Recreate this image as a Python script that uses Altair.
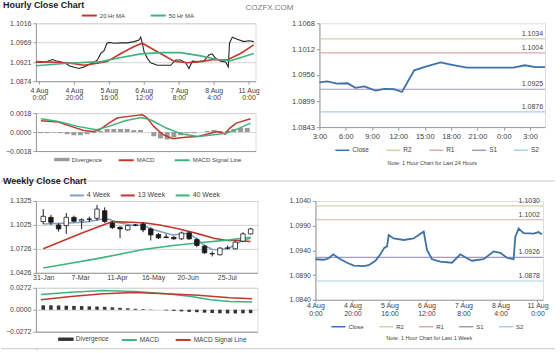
import json
import altair as alt
import pandas as pd

FONT = "Liberation Sans"
TXT = "#3f3f3f"
AXIS = "#9a9a9a"
GRID = "#d4d4d4"
RED = "#c0392b"
GREEN = "#3fb27f"
BLUE = "#3c72a8"
SEP = "#c8c8c8"

# ---------------- Hourly close chart (last week, left) ----------------
hw_tick_pos = [0, 20, 40, 60, 80, 100, 120]
hw_tick_labels = ["4 Aug|0:00", "4 Aug|20:00", "5 Aug|16:00", "6 Aug|12:00",
                  "7 Aug|8:00", "8 Aug|4:00", "11 Aug|0:00"]
hw_close_idx = [-1.7, 1.1, 5.0, 7.8, 9.7, 12.6, 15.4, 17.3, 20.2, 23.0, 25.9, 27.8, 30.7,
                33.5, 35.4, 37.3, 38.9, 40.2, 43.0, 46.9, 50.7, 54.5, 57.3, 58.3, 59.2,
                60.2, 62.1, 64.0, 67.8, 71.6, 75.4, 78.3, 81.1, 84.0, 85.9, 87.8, 90.7,
                94.5, 97.3, 99.2, 101.1, 104.0, 106.9, 108.4, 109.1, 110.7, 113.5, 117.3,
                120.2, 123.0]
hw_close_val = [1.0922, 1.0920, 1.0923, 1.0927, 1.0924, 1.0921, 1.0918, 1.0912, 1.0908,
                1.0905, 1.0909, 1.0913, 1.0918, 1.0926, 1.0942, 1.0949, 1.0967, 1.0969,
                1.0967, 1.0968, 1.0968, 1.0971, 1.0975, 1.0982, 1.0967, 1.0946, 1.0930,
                1.0919, 1.0913, 1.0913, 1.0913, 1.0926, 1.0926, 1.0919, 1.0905, 1.0923,
                1.0922, 1.0924, 1.0938, 1.0941, 1.0930, 1.0923, 1.0921, 1.0909, 1.0967,
                1.0982, 1.0977, 1.0971, 1.0973, 1.0971]
hw_ma20_idx = [-1.7, 16.4, 25.9, 33.5, 39.0, 46.9, 54.5, 59.2, 67.8, 77.3, 84.9, 92.6,
               100.2, 107.8, 115.4, 123.0]
hw_ma20_val = [1.0922, 1.0919, 1.0913, 1.0918, 1.0922, 1.0942, 1.0959, 1.0967, 1.0946,
               1.0923, 1.0919, 1.0922, 1.0927, 1.0926, 1.0942, 1.0963]
hw_ma50_idx = [-1.7, 16.4, 35.4, 44.9, 58.3, 69.7, 81.1, 92.6, 102.1, 109.7, 123.0]
hw_ma50_val = [1.0912, 1.0918, 1.0922, 1.0930, 1.0941, 1.0944, 1.0944, 1.0936, 1.0927,
               1.0924, 1.0942]
hw_macd_idx = [-1.7, 8.8, 16.4, 24.0, 29.7, 33.5, 39.0, 44.0, 50.7, 59.2, 62.1, 65.9,
               71.6, 77.3, 84.9, 92.6, 98.3, 104.0, 108.8, 111.6, 115.4, 124.0]
hw_macd_val = [0.00107, 0.00095, 0.00054, 0.00016, 0.00006, 0.00022, 0.00085, 0.00133,
               0.00149, 0.00164, 0.00133, 0.00054, -0.00025, -0.00063, -0.00050, -0.00041,
               -0.00019, 0.00006, -0.00019, 0.00038, 0.00085, 0.00126]
hw_sig_idx = [-1.7, 8.8, 20.2, 31.6, 39.0, 48.8, 58.3, 64.0, 73.5, 83.0, 92.6, 102.1,
              109.7, 117.3, 124.0]
hw_sig_val = [0.00126, 0.00100, 0.00054, 0.00022, 0.00054, 0.00107, 0.00139, 0.00117,
              0.00038, -0.00019, -0.00041, -0.00025, -0.00010, 0.00038, 0.00085]
hw_div_idx = [-2, 2, 6, 10, 14, 18, 22, 26, 30, 34, 38, 42, 46, 50, 54, 58, 62, 66, 70,
              74, 78, 82, 86, 90, 94, 98, 102, 106, 110, 114, 118, 122]
hw_div_val = [-0.0001, -0.0001, -0.00005, -0.0001, -0.0002, -0.0003, -0.0003, -0.0002,
              -0.0001, 0.0001, 0.0003, 0.0003, 0.0003, 0.0003, 0.0002, 0.0002, 0.0,
              -0.0004, -0.0006, -0.0007, -0.0005, -0.0003, -0.0001, -0.0001, 0.0, 0.0001,
              0.0002, 0.0001, 0.0001, 0.0003, 0.0004, 0.0004]

# ---------------- Last 24 hours (right, top) ----------------
d1_tick_pos = [0, 3, 6, 9, 12, 15, 18, 21, 24]
d1_tick_labels = ["3:00", "6:00", "9:00", "12:00", "15:00", "18:00", "21:00", "0:00", "3:00"]
d1_hours = [0, 0.9, 2.0, 3.2, 4.1, 5.1, 6.4, 7.4, 8.5, 9.4, 10.8, 12.1, 13.8, 15.1, 16.8,
            18.5, 20.4, 22.1, 23.4, 24.6, 25.7]
d1_close = [1.0940, 1.0942, 1.0937, 1.0938, 1.0928, 1.0931, 1.0922, 1.0926, 1.0925, 1.0919,
            1.0966, 1.0974, 1.0983, 1.0978, 1.0972, 1.0972, 1.0972, 1.0972, 1.0977, 1.0973,
            1.0973]
level_names = ["R2", "R1", "S1", "S2"]
d1_levels = [1.1034, 1.1004, 1.0925, 1.0876]

# ---------------- Weekly close chart (left, bottom) ----------------
wk_tick_pos = [0, 4.8, 9.6, 14.3, 18.8, 23.9]
wk_tick_labels = ["31-Jan", "7-Mar", "11-Apr", "16-May", "20-Jun", "25-Jul"]
wk_open = [1.1067, 1.1120, 1.1025, 1.1017, 1.1120, 1.1075, 1.1100, 1.1108, 1.1203, 1.1050,
           1.0996, 1.0963, 1.1025, 1.1037, 1.0975, 1.0905, 1.0875, 1.0871, 1.0851, 1.0925,
           1.0842, 1.0759, 1.0668, 1.0652, 1.0731, 1.0726, 1.0822, 1.0913]
wk_high = [1.1224, 1.1150, 1.1046, 1.1174, 1.1141, 1.1108, 1.1129, 1.1274, 1.1245, 1.1067,
           1.1008, 1.1025, 1.1037, 1.1058, 1.0996, 1.0925, 1.0913, 1.0884, 1.0942, 1.0942,
           1.0863, 1.0776, 1.0693, 1.0747, 1.0768, 1.0830, 1.0934, 1.0988]
wk_low = [1.1037, 1.1025, 1.0942, 1.0913, 1.1058, 1.0975, 1.1058, 1.1079, 1.1050, 1.0975,
          1.0859, 1.0954, 1.1008, 1.0934, 1.0830, 1.0851, 1.0859, 1.0842, 1.0838, 1.0838,
          1.0747, 1.0664, 1.0631, 1.0643, 1.0718, 1.0718, 1.0809, 1.0905]
wk_close = [1.1133, 1.1058, 1.0975, 1.1120, 1.1071, 1.1091, 1.1095, 1.1224, 1.1067, 1.0992,
            1.0975, 1.1017, 1.1021, 1.0963, 1.0900, 1.0863, 1.0867, 1.0851, 1.0925, 1.0851,
            1.0768, 1.0676, 1.0664, 1.0735, 1.0739, 1.0809, 1.0913, 1.0975]
wk_ma4_idx = [0, 3.2, 5.3, 7.8, 8.6, 9.5, 11.5, 13.0, 14.0, 15.2, 16.9, 18.1, 18.9, 20.0,
              21.0, 22.0, 23.0, 23.9, 24.9, 25.9, 27.0]
wk_ma4_val = [1.1037, 1.1050, 1.1058, 1.1100, 1.1095, 1.1058, 1.1025, 1.1017, 1.0975,
              1.0942, 1.0900, 1.0913, 1.0921, 1.0851, 1.0768, 1.0718, 1.0714, 1.0726,
              1.0768, 1.0830, 1.0859]
wk_ma13_idx = [0, 3.2, 5.3, 7.8, 9.0, 11.5, 13.3, 15.2, 17.7, 20.2, 22.2, 23.9, 25.1, 27.0]
wk_ma13_val = [1.0726, 1.0851, 1.0934, 1.1025, 1.1067, 1.1058, 1.1050, 1.1025, 1.0975,
               1.0913, 1.0859, 1.0830, 1.0830, 1.0818]
wk_ma40_idx = [0, 3.2, 7.4, 13.0, 16.9, 21.0, 24.3, 27.0]
wk_ma40_val = [1.0486, 1.0540, 1.0610, 1.0718, 1.0768, 1.0809, 1.0838, 1.0871]
wk_macd_idx = [-0.3, 3.6, 7.8, 11.9, 16.0, 19.3, 21.8, 24.3, 27.2]
wk_macd_val = [0.0190, 0.0218, 0.0239, 0.0227, 0.0198, 0.0165, 0.0124, 0.0103, 0.0095]
wk_sig_idx = [-0.3, 3.6, 7.8, 11.9, 16.0, 20.2, 24.3, 27.2]
wk_sig_val = [0.0124, 0.0165, 0.0198, 0.0214, 0.0198, 0.0181, 0.0148, 0.0136]
wk_div_val = [0.0055, 0.0055, 0.0053, 0.0050, 0.0048, 0.0045, 0.0042, 0.0040, 0.0036,
              0.0030, 0.0024, 0.0018, 0.0012, 0.0008, 0.0004, 0.0, -0.0008, -0.0014,
              -0.0020, -0.0026, -0.0030, -0.0036, -0.0040, -0.0044, -0.0046, -0.0046,
              -0.0044, -0.0042]

# ---------------- Last week hourly (right, bottom) ----------------
w1_idx = [0.0, 4.5, 7.2, 9.6, 12.6, 17.1, 20.7, 26.1, 28.8, 32.4, 35.1, 37.2, 38.7, 39.6,
          42.3, 47.7, 53.1, 55.8, 58.5, 60.3, 63.0, 67.5, 73.8, 78.3, 81.9, 84.6, 90.9,
          96.3, 99.9, 103.5, 107.1, 108.0, 109.8, 112.5, 117.9, 120.6, 122.4]
w1_close = [1.0922, 1.0921, 1.0924, 1.0932, 1.0924, 1.0915, 1.0909, 1.0908, 1.0910, 1.0919,
            1.0932, 1.0945, 1.0948, 1.0971, 1.0964, 1.0961, 1.0964, 1.0971, 1.0978, 1.0941,
            1.0922, 1.0917, 1.0915, 1.0932, 1.0924, 1.0919, 1.0922, 1.0938, 1.0935, 1.0925,
            1.0922, 1.0967, 1.0984, 1.0975, 1.0974, 1.0977, 1.0972]
w1_levels = [1.1030, 1.1002, 1.0926, 1.0878]

LEVEL_COLORS = ["#d3d2a4", "#dcaaa9", "#a597bd", "#a4d2e2"]


# ---------------- helpers ----------------
def lab_expr(pos, labels):
    return "split(%s[indexof(%s, datum.value)], '|')" % (json.dumps(labels), json.dumps(pos))


def y_axis(values, fmt, size=7.0, grid=True):
    return alt.Axis(values=values, tickCount=50, format=fmt, title=None, labelFont=FONT,
                    labelFontSize=size, labelColor=TXT, labelPadding=2, tickSize=3,
                    tickColor=AXIS, domainColor=AXIS, grid=grid, gridColor=GRID,
                    labelFlush=False, labelOverlap=False)


def x_axis(pos, labels, size=7.0, pad=2, tick=3):
    return alt.Axis(values=pos, tickCount=50, labelExpr=lab_expr(pos, labels), title=None,
                    labelFont=FONT, labelFontSize=size, labelColor=TXT, labelPadding=pad,
                    ticks=tick > 0, tickSize=max(tick, 1), tickColor=AXIS, domainColor=AXIS,
                    grid=False, labelFlush=False, labelOverlap=False,
                    labelLineHeight=size + 0.5)


X_BLANK = alt.Axis(labels=False, ticks=False, title=None, domainColor=AXIS, grid=False)


def line_legend(x, y, size=6.0, pad=16, sym=225, sw=2):
    return alt.Legend(orient="none", legendX=x, legendY=y, direction="horizontal",
                      title=None, symbolType="stroke", symbolSize=sym, symbolStrokeWidth=sw,
                      labelFont=FONT, labelFontSize=size, labelColor=TXT,
                      columnPadding=pad, labelOffset=2, padding=0)


def bar_legend(x, y, size=6.0):
    return alt.Legend(orient="none", legendX=x, legendY=y, direction="horizontal",
                      title=None, symbolType="M-1,-0.22H1V0.22H-1Z", symbolSize=240,
                      symbolStrokeWidth=0, labelFont=FONT, labelFontSize=size,
                      labelColor=TXT, labelOffset=2, padding=0)


def long_df(parts):
    rows = []
    for name, idx, vals in parts:
        for i, v in zip(idx, vals):
            rows.append({"name": name, "i": i, "v": v})
    return pd.DataFrame(rows)


def sep_chart():
    return alt.Chart(pd.DataFrame({"a": [0]})).mark_rule(color=SEP, strokeWidth=1).encode(
        x=alt.value(-35), x2=alt.value(520), y=alt.value(0)).properties(width=1, height=1)


# ---------------- panel A: hourly price ----------------
xs_hw = alt.Scale(domain=[-1.7, 124], nice=False, zero=False)
ys_hw = alt.Scale(domain=[1.0874, 1.1016], nice=False, zero=False)
hw_x_axis = x_axis(hw_tick_pos, hw_tick_labels, size=7, pad=2, tick=3)

a_close = alt.Chart(pd.DataFrame({"i": hw_close_idx, "v": hw_close_val})).mark_line(
    color="#262626", strokeWidth=1.1).encode(
    x=alt.X("i:Q", scale=xs_hw, axis=hw_x_axis),
    y=alt.Y("v:Q", scale=ys_hw, axis=y_axis([1.0874, 1.0921, 1.0969, 1.1016], ".4f")))
a_ma = alt.Chart(long_df([("20 Hr MA", hw_ma20_idx, hw_ma20_val),
                          ("50 Hr MA", hw_ma50_idx, hw_ma50_val)])).mark_line(
    strokeWidth=1.6).encode(
    x=alt.X("i:Q", scale=xs_hw), y=alt.Y("v:Q", scale=ys_hw),
    color=alt.Color("name:N", scale=alt.Scale(domain=["20 Hr MA", "50 Hr MA"],
                                              range=[RED, GREEN]),
                    legend=line_legend(45, -16.5, size=6, pad=21)))
a_brand = alt.Chart(pd.DataFrame({"t": ["COZFX.COM"]})).mark_text(
    align="left", baseline="middle", fontSize=8, font=FONT, color="#7a7a7a").encode(
    text="t:N", x=alt.value(210), y=alt.value(-15))
panel_a = alt.layer(a_close, a_ma, a_brand).properties(
    width=220, height=58,
    title=alt.TitleParams("Hourly Close Chart", anchor="start", frame="group", dx=-33,
                          fontSize=9, fontWeight="bold", font=FONT, color="#1a1a1a",
                          offset=-6))

# ---------------- panel B: hourly MACD ----------------
ys_hm = alt.Scale(domain=[-0.0018, 0.0018], nice=False, zero=False)
b_div = alt.Chart(pd.DataFrame({"i": hw_div_idx, "v": hw_div_val,
                                "name": "Divergence"})).mark_bar(size=5).encode(
    x=alt.X("i:Q", scale=xs_hw, axis=X_BLANK),
    y=alt.Y("v:Q", scale=ys_hm, axis=y_axis([-0.0018, 0.0, 0.0018], ".4f")),
    fill=alt.Fill("name:N", scale=alt.Scale(domain=["Divergence"], range=["#9a9a9a"]),
                  legend=bar_legend(18, 38.5, size=6)))
b_lines = alt.Chart(long_df([("MACD", hw_macd_idx, hw_macd_val),
                             ("MACD Signal Line", hw_sig_idx, hw_sig_val)])).mark_line(
    strokeWidth=1.5).encode(
    x=alt.X("i:Q", scale=xs_hw), y=alt.Y("v:Q", scale=ys_hm),
    color=alt.Color("name:N", scale=alt.Scale(domain=["MACD", "MACD Signal Line"],
                                              range=[RED, GREEN]),
                    legend=line_legend(82, 38.5, size=6, pad=16)))
panel_b = alt.layer(b_div, b_lines).properties(width=220, height=38)


# ---------------- right panels (levels) ----------------
def level_panel(xvals, closes, levels, xdom, tick_pos, tick_labels, yvals, ydom, w, h,
                note, lx, ly, ysize, xsize, xpad, xtick, lsize, lpad, noff):
    xs = alt.Scale(domain=xdom, nice=False, zero=False)
    ys = alt.Scale(domain=ydom, nice=False, zero=False)
    cs = alt.Scale(domain=["Close"] + level_names, range=[BLUE] + LEVEL_COLORS)
    lv = pd.DataFrame({"name": level_names, "v": levels, "xe": max(xvals)})
    rules = alt.Chart(lv).mark_rule(strokeWidth=1.2).encode(
        y=alt.Y("v:Q", scale=ys, axis=y_axis(yvals, ".4f", size=ysize, grid=False)),
        color=alt.Color("name:N", scale=cs, legend=line_legend(lx, ly, size=lsize, pad=lpad,
                                                               sym=200, sw=1.5)))
    line = alt.Chart(pd.DataFrame({"h": xvals, "v": closes, "name": "Close"})).mark_line(
        strokeWidth=1.8).encode(
        x=alt.X("h:Q", scale=xs, axis=x_axis(tick_pos, tick_labels, size=xsize, pad=xpad,
                                             tick=xtick)),
        y=alt.Y("v:Q", scale=ys), color=alt.Color("name:N", scale=cs))
    texts = alt.Chart(lv).mark_text(align="right", baseline="bottom", dx=-2, dy=-2,
                                    fontSize=7, font=FONT, color=TXT).encode(
        x=alt.X("xe:Q", scale=xs), y=alt.Y("v:Q", scale=ys),
        text=alt.Text("v:Q", format=".4f"))
    return alt.layer(rules, line, texts).properties(
        width=w, height=h,
        title=alt.TitleParams(note, orient="bottom", anchor="middle", fontSize=5.5,
                              fontWeight="normal", font=FONT, color=TXT, offset=noff))


panel_c = level_panel(d1_hours, d1_close, d1_levels, [0, 25.7], d1_tick_pos, d1_tick_labels,
                      [1.0843, 1.0899, 1.0956, 1.1012, 1.1068], [1.0843, 1.1068], 226, 104,
                      "Note: 1 Hour Chart for Last 24 Hours", 15, 119, 7.5, 7.5, 2, 3,
                      6.5, 13, 7)

panel_f = level_panel(w1_idx, w1_close, w1_levels, [0, 123], hw_tick_pos, hw_tick_labels,
                      [1.084, 1.089, 1.094, 1.099, 1.104], [1.084, 1.104], 228, 99,
                      "Note: 1 Hour Chart for  Last 1 Week", 15, 118, 7, 7, 0, 2,
                      6, 11, 6)

# ---------------- panel D: weekly candles ----------------
xs_wk = alt.Scale(domain=[-0.3, 27.25], nice=False, zero=False)
ys_wk = alt.Scale(domain=[1.0426, 1.1325], nice=False, zero=False)
wk_df = pd.DataFrame({"i": list(range(len(wk_open))), "open": wk_open, "high": wk_high,
                      "low": wk_low, "close": wk_close})
d_ma = alt.Chart(long_df([("4 Week", wk_ma4_idx, wk_ma4_val),
                          ("13 Week", wk_ma13_idx, wk_ma13_val),
                          ("40 Week", wk_ma40_idx, wk_ma40_val)])).mark_line(
    strokeWidth=1.6).encode(
    x=alt.X("i:Q", scale=xs_wk, axis=x_axis(wk_tick_pos, wk_tick_labels, size=7, pad=1,
                                             tick=0)),
    y=alt.Y("v:Q", scale=ys_wk, axis=y_axis([1.0426, 1.0726, 1.1025, 1.1325], ".4f")),
    color=alt.Color("name:N", scale=alt.Scale(domain=["4 Week", "13 Week", "40 Week"],
                                              range=["#7fa0c6", RED, GREEN]),
                    legend=line_legend(33, -13.5, size=7, pad=6, sym=196)))
d_wick = alt.Chart(wk_df).mark_rule(color="#1a1a1a", strokeWidth=1).encode(
    x=alt.X("i:Q", scale=xs_wk), y=alt.Y("low:Q", scale=ys_wk), y2="high:Q")
d_body = alt.Chart(wk_df).mark_bar(size=4.5, stroke="#1a1a1a", strokeWidth=0.8).encode(
    x=alt.X("i:Q", scale=xs_wk), y=alt.Y("open:Q", scale=ys_wk), y2="close:Q",
    fill=alt.condition("datum.close >= datum.open", alt.value("white"),
                       alt.value("#1a1a1a")))
panel_d = alt.layer(d_ma, d_wick, d_body).properties(
    width=222, height=72,
    title=alt.TitleParams("Weekly Close Chart", anchor="start", frame="group", dx=-33,
                          fontSize=9, fontWeight="bold", font=FONT, color="#1a1a1a",
                          offset=1))

# ---------------- panel E: weekly MACD ----------------
ys_wm = alt.Scale(domain=[-0.0272, 0.0272], nice=False, zero=False)
e_div = alt.Chart(pd.DataFrame({"i": list(range(len(wk_div_val))), "v": wk_div_val,
                                "name": "Divergence"})).mark_bar(size=3.5).encode(
    x=alt.X("i:Q", scale=xs_wk, axis=X_BLANK),
    y=alt.Y("v:Q", scale=ys_wm, axis=y_axis([-0.0272, 0.0, 0.0272], ".4f")),
    fill=alt.Fill("name:N", scale=alt.Scale(domain=["Divergence"], range=["#333333"]),
                  legend=bar_legend(22, 43.5, size=6.5)))
e_lines = alt.Chart(long_df([("MACD", wk_macd_idx, wk_macd_val),
                             ("MACD Signal Line", wk_sig_idx, wk_sig_val)])).mark_line(
    strokeWidth=1.5).encode(
    x=alt.X("i:Q", scale=xs_wk), y=alt.Y("v:Q", scale=ys_wm),
    color=alt.Color("name:N", scale=alt.Scale(domain=["MACD", "MACD Signal Line"],
                                              range=[GREEN, RED]),
                    legend=line_legend(85, 43.5, size=6.5, pad=12)))
panel_e = alt.layer(e_div, e_lines).properties(width=222, height=44)


# ---------------- layout ----------------
def ind(c):
    return c.resolve_scale(color="independent", fill="independent").resolve_legend(
        color="independent", fill="independent")


left_top = ind(alt.vconcat(panel_a, panel_b, spacing=7))
top_row = ind(alt.hconcat(left_top, panel_c, spacing=-4))
left_bot = ind(alt.vconcat(panel_d, panel_e, spacing=1))
bot_row = ind(alt.hconcat(left_bot, panel_f, spacing=30))

top_part = ind(alt.vconcat(top_row, sep_chart(), spacing=13))
bot_part = ind(alt.vconcat(bot_row, sep_chart(), spacing=3))

chart = ind(alt.vconcat(top_part, bot_part, spacing=-6)).properties(
    padding={"left": 0, "top": 0, "right": 4, "bottom": 0}
).configure_view(stroke=None).configure(background="white")

chart.save("out.html", embed_options={"renderer": "svg", "actions": False})
